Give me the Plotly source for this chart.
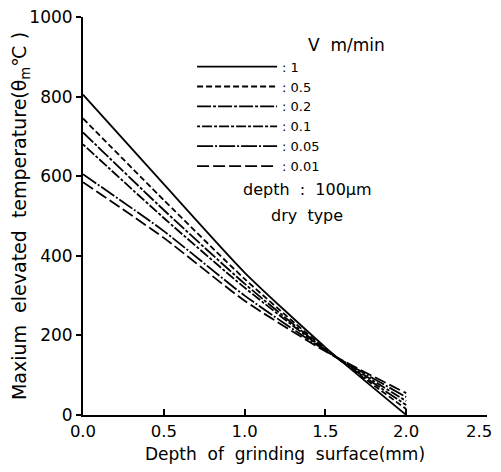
import plotly.graph_objects as go

depth_mm = [0.0, 0.5, 1.0, 1.5, 2.0]
speed_labels = [": 1", ": 0.5", ": 0.2", ": 0.1", ": 0.05", ": 0.01"]
temp_v1 = [805, 580, 358, 170, 0]
temp_v05 = [745, 540, 342, 166, 15]
temp_v02 = [710, 515, 330, 164, 25]
temp_v01 = [680, 495, 320, 163, 35]
temp_v005 = [605, 462, 300, 162, 45]
temp_v001 = [585, 445, 287, 160, 55]
series = [temp_v1, temp_v05, temp_v02, temp_v01, temp_v005, temp_v001]
dashes = ["solid", "6px,3px", "14px,2px,3px,2px", "3px,2px,10px,2px",
          "16px,2px,2px,2px", "12px,4px"]
x_ticks = [0.0, 0.5, 1.0, 1.5, 2.0, 2.5]
x_tick_text = ["0.0", "0.5", "1.0", "1.5", "2.0", "2.5"]
y_ticks = [0, 200, 400, 600, 800, 1000]

fig = go.Figure()
for vals, name, d in zip(series, speed_labels, dashes):
    fig.add_trace(go.Scatter(
        x=depth_mm, y=vals, mode="lines", name=name,
        line=dict(color="black", width=1.8, dash=d, shape="spline", smoothing=0.6),
    ))

font_family = "DejaVu Sans, Verdana, sans-serif"
NB = "\u00a0"
# pad the last tick label on the right so its glyphs stay inside the page
shown_x_text = x_tick_text[:-1] + [x_tick_text[-1] + NB * 3]

fig.update_layout(
    # page body has an 8px margin on every side; keep the figure inside it
    width=485, height=456,
    margin=dict(l=75, r=6, t=9, b=49),
    paper_bgcolor="white", plot_bgcolor="white",
    font=dict(family=font_family, color="black", size=15),
    showlegend=True,
    legend=dict(
        x=0.27, y=0.913, xanchor="left", yanchor="top",
        bgcolor="rgba(0,0,0,0)", borderwidth=0,
        font=dict(size=13, family=font_family),
        tracegroupgap=0, itemwidth=80,
    ),
    xaxis=dict(
        range=[0, 2.5], tickvals=x_ticks, ticktext=shown_x_text,
        showline=True, linecolor="black", linewidth=2,
        ticks="inside", ticklen=6, tickwidth=1.5, tickcolor="black",
        showgrid=False, zeroline=False, automargin=False,
        ticklabeloverflow="allow",
        tickfont=dict(size=16.5),
        title=dict(text="Depth  of  grinding  surface(mm)", font=dict(size=17)),
    ),
    yaxis=dict(
        range=[0, 1000], tickvals=y_ticks,
        showline=True, linecolor="black", linewidth=2,
        ticks="outside", ticklen=5, tickwidth=1.5, tickcolor="black",
        showgrid=False, zeroline=False, automargin=False,
        ticklabeloverflow="allow",
        tickfont=dict(size=17),
        title=dict(text="Maxium  elevated  temperature(θ<sub>m</sub>℃ )",
                   font=dict(size=19), standoff=0),
    ),
    annotations=[
        dict(x=0.652, y=0.93, xref="paper", yref="paper", text="V" + NB * 2 + "m/min",
             showarrow=False, yanchor="middle", font=dict(size=17)),
        dict(x=0.555, y=0.567, xref="paper", yref="paper",
             text="depth" + NB * 2 + ":" + NB * 2 + "100μm",
             showarrow=False, yanchor="middle", font=dict(size=16)),
        dict(x=0.555, y=0.502, xref="paper", yref="paper", text="dry" + NB * 2 + "type",
             showarrow=False, yanchor="middle", font=dict(size=16)),
    ],
)

fig.write_html("out.html")
